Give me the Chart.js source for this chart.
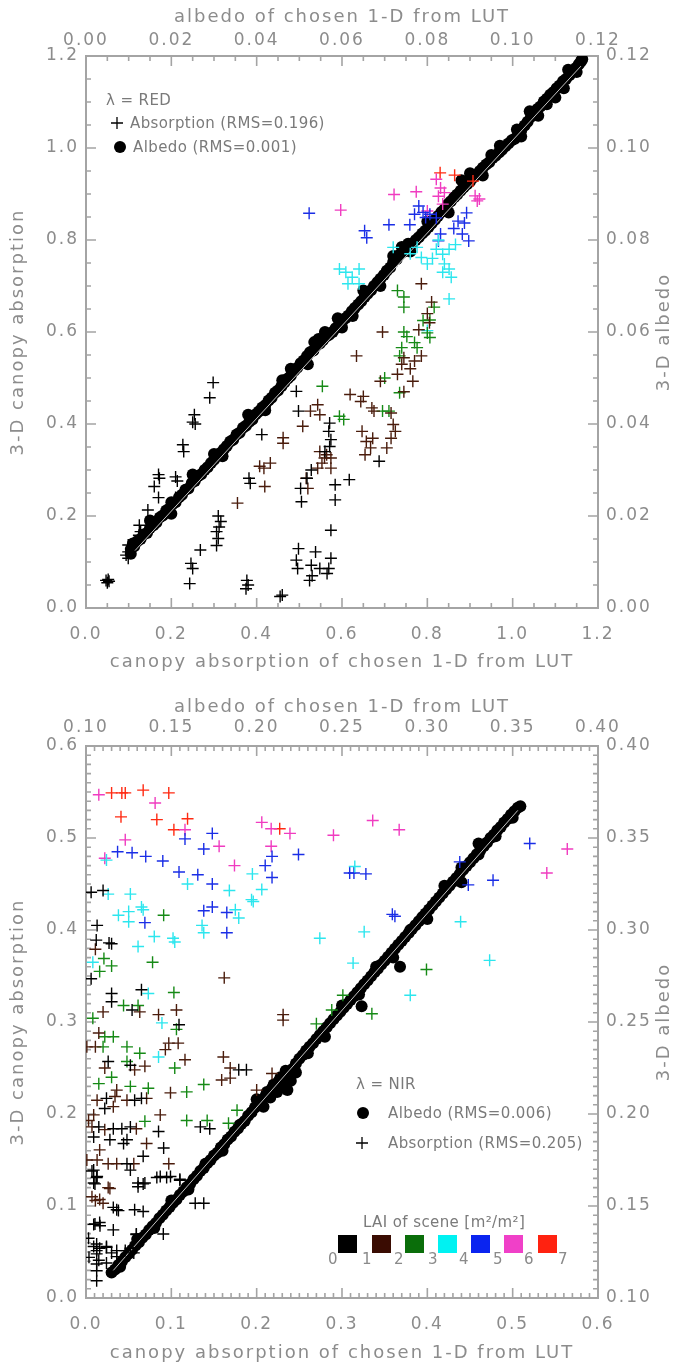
<!DOCTYPE html>
<html>
<head>
<meta charset="utf-8">
<script src="https://cdn.jsdelivr.net/npm/chart.js@4.4.0/dist/chart.umd.min.js"></script>
<style>
  html, body { margin: 0; padding: 0; background: #fff; }
  #wrap { position: relative; width: 679px; height: 1364px; overflow: hidden; }
  canvas { position: absolute; left: 0; }
  .lg { position: absolute; font-family: "DejaVu Sans", sans-serif; font-size: 15px; line-height: 18px;
        color: #7a7a7a; white-space: nowrap; letter-spacing: 0.4px; }
  .sq { position: absolute; width: 19px; height: 18px; }
  .num { position: absolute; font-family: "DejaVu Sans", sans-serif; font-size: 15px; line-height: 18px; color: #8a8a8a; }
  svg.mk { position: absolute; overflow: visible; }
</style>
</head>
<body>
<div id="wrap">
  <canvas id="c1" width="679" height="682" style="top:0px"></canvas>
  <canvas id="c2" width="679" height="682" style="top:682px"></canvas>

  <!-- panel 1 legend -->
  <div class="lg" style="left:106px;top:91px">λ = RED</div>
  <svg class="mk" style="left:111px;top:117px" width="12" height="12"><path d="M6 0V12M0 6H12" stroke="#000" stroke-width="1.3"/></svg>
  <div class="lg" style="left:130px;top:114px">Absorption (RMS=0.196)</div>
  <svg class="mk" style="left:114px;top:141px" width="12" height="12"><circle cx="6" cy="6" r="6" fill="#000"/></svg>
  <div class="lg" style="left:133px;top:138px">Albedo (RMS=0.001)</div>

  <!-- panel 2 legend -->
  <div class="lg" style="left:356px;top:1075px">λ = NIR</div>
  <svg class="mk" style="left:357px;top:1107px" width="12" height="12"><circle cx="6" cy="6" r="6" fill="#000"/></svg>
  <div class="lg" style="left:388px;top:1104px">Albedo (RMS=0.006)</div>
  <svg class="mk" style="left:356px;top:1137px" width="12" height="12"><path d="M6 0V12M0 6H12" stroke="#000" stroke-width="1.3"/></svg>
  <div class="lg" style="left:388px;top:1134px">Absorption (RMS=0.205)</div>
  <div class="lg" style="left:363px;top:1213px">LAI of scene [m²/m²]</div>
  <div id="laibar"></div>
</div>
<script>
// ---------------- DATA ----------------
const laiColors = ['#000000', '#4a1c0c', '#168a16', '#2ce6ee', '#1a2ee6', '#f03cc0', '#ff2a12'];
const laiSquareColors = ['#000000', '#3a0c02', '#0a6e0a', '#00f2f2', '#0a24f0', '#f040c8', '#ff2210'];
const laiLabels = ['0', '1', '2', '3', '4', '5', '6', '7'];

// tick labels
const p1AbsTicks = ['0.0', '0.2', '0.4', '0.6', '0.8', '1.0', '1.2'];
const p1AlbTicks = ['0.00', '0.02', '0.04', '0.06', '0.08', '0.10', '0.12'];
const p2AbsTicks = ['0.0', '0.1', '0.2', '0.3', '0.4', '0.5', '0.6'];
const p2AlbTicks = ['0.10', '0.15', '0.20', '0.25', '0.30', '0.35', '0.40'];

// ---- Panel 1 (RED): absorption crosses [1-D LUT, 3-D], by LAI class
const redAbsLai0 = [[0.047,0.060],[0.054,0.058],[0.050,0.055],[0.052,0.062],[0.099,0.137],[0.099,0.122],[0.099,0.108],[0.094,0.115],
 [0.125,0.180],[0.128,0.166],[0.124,0.158],[0.160,0.264],[0.170,0.290],[0.172,0.282],[0.170,0.240],[0.145,0.213],[0.210,0.285],[0.214,0.276],
 [0.210,0.240],[0.227,0.355],[0.229,0.340],[0.254,0.420],[0.256,0.400],[0.250,0.404],[0.290,0.457],[0.298,0.490],[0.310,0.200],[0.316,0.188],
 [0.306,0.166],[0.310,0.151],[0.306,0.136],[0.312,0.176],[0.268,0.126],[0.246,0.097],[0.250,0.086],[0.243,0.053],[0.377,0.060],[0.375,0.042],
 [0.380,0.050],[0.460,0.028],[0.455,0.025],[0.498,0.129],[0.493,0.104],[0.496,0.086],[0.538,0.122],[0.528,0.093],[0.524,0.060],[0.548,0.086],
 [0.569,0.086],[0.574,0.108],[0.530,0.070],[0.565,0.075],[0.574,0.169],[0.584,0.235],[0.584,0.268],[0.617,0.279],[0.687,0.319],[0.382,0.282],
 [0.385,0.271],[0.412,0.377],[0.493,0.471],[0.498,0.428],[0.503,0.260],[0.505,0.231],[0.518,0.282],[0.528,0.300],[0.569,0.384],[0.574,0.366],
 [0.571,0.351],[0.571,0.402],[0.560,0.340]];
const redAbsLai1 = [[0.355,0.228],[0.419,0.264],[0.407,0.308],[0.417,0.304],[0.432,0.315],[0.462,0.370],[0.462,0.358],[0.543,0.442],[0.548,0.420],
 [0.526,0.428],[0.508,0.395],[0.520,0.260],[0.516,0.282],[0.548,0.340],[0.559,0.326],[0.564,0.333],[0.574,0.326],[0.553,0.315],[0.543,0.304],
 [0.574,0.304],[0.634,0.548],[0.619,0.464],[0.644,0.449],[0.650,0.460],[0.670,0.435],[0.675,0.428],[0.647,0.384],[0.657,0.362],[0.672,0.369],
 [0.667,0.348],[0.654,0.333],[0.705,0.348],[0.715,0.369],[0.720,0.399],[0.725,0.384],[0.715,0.424],[0.690,0.493],[0.730,0.508],[0.740,0.530],
 [0.745,0.544],[0.766,0.493],[0.770,0.537],[0.786,0.548],[0.695,0.600],[0.780,0.605],[0.786,0.705],[0.810,0.665],[0.800,0.640],[0.805,0.620],
 [0.760,0.520],[0.745,0.470]];
const redAbsLai2 = [[0.554,0.482],[0.594,0.417],[0.604,0.410],[0.700,0.500],[0.695,0.428],[0.710,0.428],[0.735,0.548],[0.740,0.566],[0.735,0.468],
 [0.770,0.577],[0.776,0.566],[0.806,0.588],[0.800,0.598],[0.730,0.690],[0.745,0.676],[0.745,0.654],[0.816,0.654],[0.806,0.626],[0.745,0.600],
 [0.752,0.590],[0.790,0.625]];
const redAbsLai3 = [[0.594,0.737],[0.609,0.730],[0.624,0.719],[0.640,0.737],[0.614,0.705],[0.640,0.705],[0.720,0.784],[0.776,0.784],[0.786,0.762],
 [0.800,0.748],[0.821,0.780],[0.836,0.769],[0.851,0.780],[0.840,0.748],[0.851,0.737],[0.836,0.730],[0.856,0.719],[0.851,0.672],[0.800,0.603],
 [0.760,0.770],[0.812,0.760],[0.866,0.790],[0.826,0.800]];
const redAbsLai4 = [[0.523,0.858],[0.653,0.820],[0.658,0.805],[0.710,0.833],[0.759,0.833],[0.770,0.856],[0.780,0.874],[0.796,0.849],[0.806,0.856],
 [0.831,0.813],[0.826,0.798],[0.872,0.841],[0.887,0.837],[0.892,0.859],[0.897,0.798],[0.882,0.813],[0.821,0.848],[0.790,0.860],[0.862,0.825]];
const redAbsLai5 = [[0.597,0.865],[0.722,0.899],[0.774,0.905],[0.821,0.932],[0.831,0.913],[0.840,0.903],[0.836,0.878],[0.800,0.863],[0.912,0.896],
 [0.917,0.885],[0.922,0.889],[0.826,0.895]];
const redAbsLai6 = [[0.830,0.946],[0.864,0.941],[0.907,0.928]];

// ---- Panel 1 (RED): albedo points [1-D LUT albedo, 3-D albedo]
const redAlbedo = [[0.0105,0.0128],[0.0113,0.0134],[0.0120,0.0145],[0.0128,0.0150],[0.0135,0.0160],[0.0143,0.0163],[0.0150,0.0174],[0.0158,0.0180],
 [0.0165,0.0186],[0.0173,0.0197],[0.0180,0.0201],[0.0188,0.0212],[0.0195,0.0216],[0.0203,0.0226],[0.0210,0.0230],[0.0218,0.0241],[0.0225,0.0246],
 [0.0233,0.0257],[0.0240,0.0260],[0.0248,0.0272],[0.0255,0.0276],[0.0263,0.0287],[0.0270,0.0291],[0.0278,0.0300],[0.0285,0.0306],[0.0293,0.0315],
 [0.0300,0.0322],[0.0308,0.0331],[0.0315,0.0337],[0.0323,0.0345],[0.0330,0.0352],[0.0338,0.0362],[0.0345,0.0366],[0.0353,0.0377],[0.0360,0.0381],
 [0.0368,0.0392],[0.0375,0.0396],[0.0383,0.0405],[0.0390,0.0410],[0.0398,0.0421],[0.0405,0.0427],[0.0413,0.0436],[0.0420,0.0441],[0.0428,0.0451],
 [0.0435,0.0457],[0.0443,0.0468],[0.0450,0.0473],[0.0458,0.0482],[0.0465,0.0490],[0.0473,0.0499],[0.0480,0.0505],[0.0488,0.0516],[0.0495,0.0522],
 [0.0503,0.0532],[0.0510,0.0538],[0.0518,0.0548],[0.0525,0.0556],[0.0533,0.0560],[0.0540,0.0570],[0.0548,0.0575],[0.0555,0.0582],[0.0563,0.0590],
 [0.0570,0.0594],[0.0578,0.0600],[0.0585,0.0608],[0.0593,0.0615],[0.0600,0.0622],[0.0608,0.0630],[0.0615,0.0636],[0.0623,0.0645],[0.0630,0.0652],
 [0.0638,0.0660],[0.0645,0.0667],[0.0653,0.0676],[0.0660,0.0683],[0.0668,0.0691],[0.0675,0.0700],[0.0683,0.0708],[0.0690,0.0716],[0.0698,0.0724],
 [0.0705,0.0733],[0.0713,0.0740],[0.0720,0.0752],[0.0728,0.0758],[0.0735,0.0768],[0.0743,0.0774],[0.0750,0.0780],[0.0758,0.0786],[0.0765,0.0792],
 [0.0773,0.0800],[0.0780,0.0806],[0.0788,0.0814],[0.0795,0.0820],[0.0803,0.0828],[0.0810,0.0836],[0.0818,0.0844],[0.0825,0.0852],[0.0833,0.0861],
 [0.0840,0.0867],[0.0848,0.0878],[0.0855,0.0884],[0.0863,0.0893],[0.0870,0.0899],[0.0878,0.0907],[0.0885,0.0914],[0.0893,0.0921],[0.0900,0.0927],
 [0.0908,0.0936],[0.0915,0.0942],[0.0923,0.0950],[0.0930,0.0957],[0.0938,0.0964],[0.0945,0.0969],[0.0953,0.0978],[0.0960,0.0983],[0.0968,0.0990],
 [0.0975,0.0996],[0.0983,0.1004],[0.0990,0.1010],[0.0998,0.1017],[0.1005,0.1020],[0.1013,0.1030],[0.1020,0.1038],[0.1028,0.1049],[0.1035,0.1057],
 [0.1043,0.1068],[0.1050,0.1073],[0.1058,0.1085],[0.1065,0.1090],[0.1073,0.1101],[0.1080,0.1107],[0.1088,0.1116],[0.1095,0.1121],[0.1103,0.1130],
 [0.1110,0.1136],[0.1118,0.1145],[0.1125,0.1150],[0.1133,0.1158],[0.1140,0.1166],[0.1148,0.1174],[0.1155,0.1182],[0.1160,0.1188],[0.1163,0.1193],
 [0.0545,0.0585],[0.0535,0.0578],[0.0755,0.0792],[0.0740,0.0785],[0.0950,0.0985],[0.1010,0.1040],[0.1100,0.1110],[0.1120,0.1130],[0.1060,0.1070],
 [0.0880,0.0930],[0.0300,0.0335],[0.0200,0.0230],[0.0460,0.0495],
 [0.0150,0.0190],[0.0200,0.0205],[0.0250,0.0290],[0.0320,0.0330],[0.0380,0.0420],[0.0420,0.0430],[0.0480,0.0520],[0.0520,0.0530],[0.0560,0.0600],
 [0.0600,0.0610],[0.0650,0.0690],[0.0690,0.0700],[0.0720,0.0765],[0.0760,0.0775],[0.0800,0.0840],[0.0850,0.0860],[0.0900,0.0945],[0.0930,0.0940],
 [0.0970,0.1005],[0.1020,0.1025],[0.1040,0.1080],[0.1080,0.1095],[0.1130,0.1170],[0.1150,0.1165],[0.0105,0.0118],[0.0110,0.0140],[0.0590,0.0630],
 [0.0625,0.0635]];
const redRefLine = [[0.0115,0.0125],[0.1160,0.1178]];

// ---- Panel 2 (NIR): absorption crosses
const nirAbsLai0 = [[0.006,0.441],[0.020,0.443],[0.013,0.405],[0.012,0.389],[0.027,0.386],[0.030,0.385],[0.006,0.347],[0.030,0.331],[0.065,0.335],
 [0.030,0.322],[0.054,0.313],[0.109,0.297],[0.026,0.257],[0.052,0.253],[0.179,0.248],[0.188,0.248],[0.024,0.217],[0.057,0.215],[0.065,0.217],
 [0.022,0.206],[0.015,0.186],[0.032,0.184],[0.042,0.184],[0.052,0.186],[0.134,0.186],[0.145,0.184],[0.085,0.181],[0.009,0.175],[0.028,0.172],
 [0.044,0.168],[0.048,0.172],[0.091,0.163],[0.048,0.146],[0.067,0.154],[0.009,0.139],[0.013,0.132],[0.009,0.125],[0.052,0.139],[0.061,0.125],
 [0.069,0.125],[0.087,0.132],[0.099,0.132],[0.110,0.128],[0.128,0.103],[0.138,0.103],[0.036,0.096],[0.057,0.096],[0.067,0.094],[0.009,0.080],
 [0.016,0.082],[0.032,0.074],[0.003,0.065],[0.059,0.069],[0.009,0.056],[0.016,0.054],[0.024,0.056],[0.030,0.049],[0.015,0.041],[0.024,0.038],
 [0.036,0.045],[0.052,0.054],[0.056,0.049],[0.007,0.138],[0.0125,0.131],[0.0105,0.124],[0.0105,0.0804],[0.0164,0.0786],[0.032,0.0985],
 [0.038,0.095],[0.083,0.131],[0.0945,0.131],[0.110,0.129],[0.061,0.121],[0.067,0.124],[0.059,0.0695],[0.0906,0.0695],[0.0125,0.0587],
 [0.0125,0.0515],[0.0125,0.048],[0.0125,0.0369],[0.0125,0.0297],[0.0125,0.0188],[0.024,0.055],[0.036,0.0515],[0.046,0.0515],[0.0035,0.0442]];
const nirAbsLai1 = [[0.011,0.379],[0.162,0.348],[0.063,0.311],[0.020,0.311],[0.085,0.308],[0.106,0.313],[0.231,0.308],[0.231,0.302],[0.015,0.288],
 [0.001,0.273],[0.011,0.273],[0.097,0.277],[0.108,0.277],[0.093,0.270],[0.116,0.259],[0.022,0.250],[0.057,0.248],[0.069,0.252],[0.161,0.262],
 [0.169,0.250],[0.159,0.237],[0.169,0.239],[0.218,0.244],[0.099,0.223],[0.036,0.226],[0.013,0.215],[0.034,0.219],[0.048,0.215],[0.071,0.217],
 [0.032,0.208],[0.200,0.226],[0.009,0.199],[0.003,0.193],[0.007,0.186],[0.022,0.183],[0.059,0.184],[0.087,0.199],[0.071,0.168],[0.016,0.161],
 [0.001,0.150],[0.013,0.150],[0.026,0.146],[0.036,0.146],[0.056,0.146],[0.097,0.146],[0.028,0.119],[0.007,0.110],[0.016,0.107],[0.020,0.103],
 [0.026,0.120],[0.011,0.106]];
const nirAbsLai2 = [[0.091,0.416],[0.021,0.369],[0.030,0.361],[0.016,0.355],[0.078,0.365],[0.103,0.332],[0.044,0.318],[0.061,0.318],[0.008,0.304],
 [0.106,0.292],[0.270,0.298],[0.288,0.313],[0.022,0.284],[0.032,0.284],[0.020,0.273],[0.048,0.273],[0.063,0.266],[0.048,0.257],[0.030,0.240],
 [0.104,0.250],[0.138,0.232],[0.118,0.224],[0.073,0.228],[0.015,0.233],[0.052,0.230],[0.177,0.204],[0.069,0.192],[0.118,0.193],[0.142,0.193],
 [0.167,0.190],[0.399,0.357],[0.301,0.329],[0.335,0.309]];
const nirAbsLai3 = [[0.024,0.476],[0.026,0.439],[0.052,0.439],[0.065,0.425],[0.067,0.422],[0.038,0.416],[0.050,0.420],[0.050,0.409],[0.080,0.393],
 [0.061,0.382],[0.102,0.391],[0.104,0.387],[0.136,0.405],[0.138,0.397],[0.119,0.450],[0.168,0.443],[0.195,0.461],[0.206,0.444],[0.194,0.433],
 [0.196,0.431],[0.175,0.422],[0.179,0.413],[0.274,0.391],[0.008,0.365],[0.073,0.331],[0.089,0.299],[0.085,0.262],[0.315,0.469],[0.326,0.398],
 [0.313,0.364],[0.380,0.329],[0.439,0.409],[0.473,0.367]];
const nirAbsLai4 = [[0.037,0.485],[0.054,0.484],[0.070,0.480],[0.090,0.475],[0.116,0.499],[0.148,0.505],[0.138,0.488],[0.109,0.463],[0.131,0.460],
 [0.148,0.450],[0.218,0.480],[0.210,0.470],[0.218,0.457],[0.249,0.482],[0.138,0.421],[0.148,0.425],[0.165,0.419],[0.069,0.408],[0.165,0.397],
 [0.309,0.462],[0.314,0.462],[0.328,0.461],[0.359,0.417],[0.362,0.415],[0.438,0.474],[0.448,0.449],[0.477,0.454],[0.520,0.494]];
const nirAbsLai5 = [[0.015,0.547],[0.081,0.538],[0.116,0.509],[0.046,0.498],[0.022,0.478],[0.156,0.491],[0.206,0.517],[0.217,0.510],[0.239,0.505],
 [0.290,0.503],[0.217,0.491],[0.174,0.470],[0.336,0.519],[0.367,0.509],[0.564,0.488],[0.540,0.462]];
const nirAbsLai6 = [[0.030,0.549],[0.042,0.549],[0.046,0.549],[0.067,0.552],[0.097,0.549],[0.041,0.523],[0.083,0.520],[0.103,0.509],[0.119,0.521],
 [0.227,0.510]];

// ---- Panel 2 (NIR): albedo points [1-D LUT albedo, 3-D albedo]
const nirAlbedo = [[0.1150,0.1138],[0.1170,0.1155],[0.1190,0.1180],[0.1210,0.1198],[0.1230,0.1221],[0.1250,0.1240],[0.1270,0.1262],[0.1290,0.1285],
 [0.1310,0.1303],[0.1330,0.1327],[0.1350,0.1345],[0.1370,0.1370],[0.1390,0.1390],[0.1410,0.1408],[0.1430,0.1433],[0.1450,0.1452],[0.1470,0.1475],
 [0.1490,0.1494],[0.1510,0.1518],[0.1530,0.1535],[0.1550,0.1560],[0.1570,0.1579],[0.1590,0.1602],[0.1610,0.1620],[0.1630,0.1646],[0.1650,0.1665],
 [0.1670,0.1690],[0.1690,0.1707],[0.1710,0.1732],[0.1730,0.1750],[0.1750,0.1774],[0.1770,0.1790],[0.1790,0.1818],[0.1810,0.1836],[0.1830,0.1862],
 [0.1850,0.1878],[0.1870,0.1903],[0.1890,0.1921],[0.1910,0.1945],[0.1930,0.1962],[0.1950,0.1990],[0.1970,0.2010],[0.1990,0.2035],[0.2010,0.2052],
 [0.2030,0.2075],[0.2050,0.2095],[0.2070,0.2118],[0.2090,0.2140],[0.2110,0.2160],[0.2130,0.2180],[0.2150,0.2200],[0.2170,0.2220],[0.2190,0.2230],
 [0.2210,0.2245],[0.2230,0.2275],[0.2250,0.2300],[0.2270,0.2320],[0.2290,0.2345],[0.2310,0.2366],[0.2330,0.2385],[0.2350,0.2408],[0.2370,0.2430],
 [0.2390,0.2450],[0.2410,0.2472],[0.2430,0.2493],[0.2450,0.2515],[0.2470,0.2535],[0.2490,0.2555],[0.2510,0.2578],[0.2530,0.2598],[0.2550,0.2620],
 [0.2570,0.2640],[0.2590,0.2662],[0.2610,0.2684],[0.2630,0.2705],[0.2650,0.2726],[0.2670,0.2748],[0.2690,0.2770],[0.2710,0.2790],[0.2730,0.2812],
 [0.2750,0.2833],[0.2770,0.2855],[0.2790,0.2876],[0.2810,0.2898],[0.2830,0.2920],[0.2850,0.2940],[0.2870,0.2962],[0.2890,0.2983],[0.2910,0.3005],
 [0.2930,0.3026],[0.2950,0.3048],[0.2970,0.3070],[0.2990,0.3090],[0.3010,0.3112],[0.3030,0.3133],[0.3050,0.3155],[0.3070,0.3176],[0.3090,0.3198],
 [0.3110,0.3220],[0.3130,0.3240],[0.3150,0.3262],[0.3170,0.3283],[0.3190,0.3305],[0.3210,0.3327],[0.3230,0.3348],[0.3250,0.3368],[0.3270,0.3390],
 [0.3290,0.3412],[0.3310,0.3433],[0.3330,0.3455],[0.3350,0.3476],[0.3370,0.3500],[0.3390,0.3518],[0.3410,0.3542],[0.3430,0.3560],[0.3450,0.3584],
 [0.3470,0.3603],[0.3490,0.3626],[0.3510,0.3645],[0.3530,0.3665],[0.3545,0.3672],
 [0.2000,0.2080],[0.2040,0.2040],[0.2080,0.2090],[0.2120,0.2120],[0.2160,0.2165],[0.2180,0.2130],[0.2200,0.2180],[0.2140,0.2200],[0.2100,0.2160],
 [0.2060,0.2120],[0.2230,0.2225],[0.2170,0.2235],[0.2840,0.2800],[0.2615,0.2585],[0.3300,0.3470],[0.3200,0.3340],
 [0.1200,0.1170],[0.1300,0.1320],[0.1400,0.1380],[0.1500,0.1530],[0.1600,0.1590],[0.1700,0.1730],[0.1800,0.1800],[0.1900,0.1940],[0.2300,0.2330],
 [0.2400,0.2420],[0.2500,0.2590],[0.2600,0.2650],[0.2700,0.2800],[0.2800,0.2850],[0.2900,0.3000],[0.3000,0.3060],[0.3100,0.3240],[0.3200,0.3260],
 [0.3300,0.3410],[0.3400,0.3510],[0.3500,0.3610]];
const nirRefLine = [[0.1160,0.1150],[0.3530,0.3650]];

// ---------------- CHARTS ----------------
Chart.defaults.font.family = "'DejaVu Sans', sans-serif";
Chart.defaults.font.size = 17;
Chart.defaults.color = '#8c8c8c';

const AXIS_COLOR = '#a4a4a4';
const toXY = arr => arr.map(p => ({x: p[0], y: p[1]}));
const isMajor = (v, origin, step) => Math.abs((v - origin) / step - Math.round((v - origin) / step)) < 1e-6;

function axis(cfg) {
  return {
    type: 'linear', position: cfg.position, min: cfg.min, max: cfg.max,
    grid: { display: false, drawTicks: false },
    border: { display: false },
    title: cfg.title ? { display: true, text: cfg.title, color: '#8c8c8c', font: { size: 18 }, padding: cfg.titlePad } : { display: false },
    ticks: {
      stepSize: cfg.minor, autoSkip: false, maxRotation: 0, minRotation: 0, padding: cfg.labelPad, color: '#8c8c8c',
      callback: (v) => isMajor(v, cfg.min, cfg.major) ? cfg.labels[Math.round((v - cfg.min) / cfg.major)] : ''
    },
    afterFit: (s) => { if (cfg.position === 'left' || cfg.position === 'right') s.width = cfg.size; else s.height = cfg.size; }
  };
}

const frameTicks = {
  id: 'frameTicks',
  beforeDraw(chart) { chart.ctx.letterSpacing = '2px'; },
  beforeDatasetsDraw(chart, args, opts) {
    const ctx = chart.ctx, a = chart.chartArea;
    ctx.save();
    ctx.strokeStyle = AXIS_COLOR;
    ctx.lineWidth = 1.6;
    ctx.beginPath();
    for (const id of ['x', 'x2', 'y', 'y2']) {
      const s = chart.scales[id];
      const m = opts.major[id], o = opts.origin[id];
      for (const t of s.ticks) {
        const p = s.getPixelForValue(t.value);
        const len = isMajor(t.value, o, m) ? 10 : 5;
        if (id === 'x') { ctx.moveTo(p, a.bottom); ctx.lineTo(p, a.bottom - len); }
        else if (id === 'x2') { ctx.moveTo(p, a.top); ctx.lineTo(p, a.top + len); }
        else if (id === 'y') { ctx.moveTo(a.left, p); ctx.lineTo(a.left + len, p); }
        else { ctx.moveTo(a.right, p); ctx.lineTo(a.right - len, p); }
      }
    }
    ctx.stroke();
    ctx.lineWidth = 2;
    ctx.strokeRect(a.left, a.top, a.right - a.left, a.bottom - a.top);
    ctx.restore();
  },
  afterDraw(chart, args, opts) {
    // right-hand axis title, reading bottom-to-top like the left one
    const ctx = chart.ctx, a = chart.chartArea;
    ctx.save();
    ctx.letterSpacing = '2px';
    ctx.fillStyle = '#8c8c8c';
    ctx.font = "18px 'DejaVu Sans', sans-serif";
    ctx.textAlign = 'center';
    ctx.textBaseline = 'middle';
    ctx.translate(opts.rightTitleX, (a.top + a.bottom) / 2);
    ctx.rotate(-Math.PI / 2);
    ctx.fillText(opts.rightTitle, 0, 0);
    ctx.restore();
  }
};

function crossSet(arr, color) {
  return { data: toXY(arr), xAxisID: 'x', yAxisID: 'y', pointStyle: 'cross', pointRadius: 6,
           borderColor: color, backgroundColor: color, borderWidth: 1.4 };
}

function makeChart(id, cfg) {
  const datasets = [];
  cfg.crosses.forEach((arr, i) => datasets.push(crossSet(arr, laiColors[i])));
  datasets.push({ data: toXY(cfg.refLine), xAxisID: 'x2', yAxisID: 'y2', showLine: true, pointRadius: 0,
                  borderColor: '#c4c4c4', borderWidth: 1 });
  datasets.push({ data: toXY(cfg.albedo), xAxisID: 'x2', yAxisID: 'y2', pointStyle: 'circle', pointRadius: 6,
                  backgroundColor: '#000', borderColor: '#000', borderWidth: 0 });
  return new Chart(document.getElementById(id), {
    type: 'scatter',
    data: { datasets },
    options: {
      responsive: false, animation: false, devicePixelRatio: 1, events: [],
      layout: { padding: 0 },
      plugins: {
        legend: { display: false }, tooltip: { enabled: false },
        frameTicks: { major: cfg.major, origin: cfg.origin, rightTitle: '3-D albedo', rightTitleX: 664 }
      },
      scales: cfg.scales
    },
    plugins: [frameTicks]
  });
}

// Panel 1 : RED
makeChart('c1', {
  crosses: [redAbsLai0, redAbsLai1, redAbsLai2, redAbsLai3, redAbsLai4, redAbsLai5, redAbsLai6],
  albedo: redAlbedo, refLine: redRefLine,
  major: { x: 0.2, x2: 0.02, y: 0.2, y2: 0.02 },
  origin: { x: 0, x2: 0, y: 0, y2: 0 },
  scales: {
    x: axis({ position: 'bottom', min: 0, max: 1.2, minor: 0.05, major: 0.2, labels: p1AbsTicks, size: 74, labelPad: 16.5,
              title: 'canopy absorption of chosen 1-D from LUT', titlePad: { top: 0, bottom: 9 } }),
    x2: axis({ position: 'top', min: 0, max: 0.12, minor: 0.005, major: 0.02, labels: p1AlbTicks, size: 56, labelPad: 5.5,
               title: 'albedo of chosen 1-D from LUT', titlePad: { top: 7, bottom: 0 } }),
    y: axis({ position: 'left', min: 0, max: 1.2, minor: 0.05, major: 0.2, labels: p1AbsTicks, size: 86, labelPad: 7,
              title: '3-D canopy absorption', titlePad: { top: 8, bottom: 0 } }),
    y2: axis({ position: 'right', min: 0, max: 0.12, minor: 0.005, major: 0.02, labels: p1AlbTicks, size: 81, labelPad: 8 })
  }
});

// Panel 2 : NIR
makeChart('c2', {
  crosses: [nirAbsLai0, nirAbsLai1, nirAbsLai2, nirAbsLai3, nirAbsLai4, nirAbsLai5, nirAbsLai6],
  albedo: nirAlbedo, refLine: nirRefLine,
  major: { x: 0.1, x2: 0.05, y: 0.1, y2: 0.05 },
  origin: { x: 0, x2: 0.1, y: 0, y2: 0.1 },
  scales: {
    x: axis({ position: 'bottom', min: 0, max: 0.6, minor: 0.01, major: 0.1, labels: p2AbsTicks, size: 66, labelPad: 16.5,
              title: 'canopy absorption of chosen 1-D from LUT', titlePad: { top: 0, bottom: 0 } }),
    x2: axis({ position: 'top', min: 0.1, max: 0.4, minor: 0.005, major: 0.05, labels: p2AlbTicks, size: 64, labelPad: 8.5,
               title: 'albedo of chosen 1-D from LUT', titlePad: { top: 15, bottom: 0 } }),
    y: axis({ position: 'left', min: 0, max: 0.6, minor: 0.01, major: 0.1, labels: p2AbsTicks, size: 86, labelPad: 7,
              title: '3-D canopy absorption', titlePad: { top: 8, bottom: 0 } }),
    y2: axis({ position: 'right', min: 0.1, max: 0.4, minor: 0.005, major: 0.05, labels: p2AlbTicks, size: 81, labelPad: 8 })
  }
});

// LAI colour bar legend (panel 2)
const bar = document.getElementById('laibar');
const sqLeft = [338, 372, 405, 438, 471, 504, 538];
const numLeft = [328, 362, 394, 428, 459, 493, 524, 558];
laiSquareColors.forEach((c, i) => {
  const d = document.createElement('div');
  d.className = 'sq'; d.style.left = sqLeft[i] + 'px'; d.style.top = '1235px'; d.style.background = c;
  bar.appendChild(d);
});
laiLabels.forEach((t, i) => {
  const d = document.createElement('div');
  d.className = 'num'; d.style.left = numLeft[i] + 'px'; d.style.top = '1250px'; d.textContent = t;
  bar.appendChild(d);
});
</script>
</body>
</html>
